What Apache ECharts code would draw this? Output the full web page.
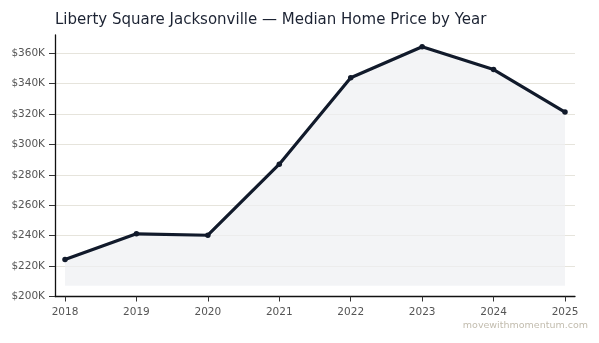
<!DOCTYPE html>
<html>
<head>
<meta charset="utf-8">
<script src="https://cdn.jsdelivr.net/npm/echarts@6/dist/echarts.min.js"></script>
<style>
  html, body { margin: 0; padding: 0; background: #fff; }
  #chart { width: 599px; height: 343px; }
</style>
</head>
<body>
<div id="chart"></div>
<script>
  // data
  const years = [2018, 2019, 2020, 2021, 2022, 2023, 2024, 2025]
  const prices = [224300, 241200, 240300, 287000, 343900, 364300, 349300, 321300]
  const yTicks = [200000, 220000, 240000, 260000, 280000, 300000, 320000, 340000, 360000]
  const fillBase = 207000

  const chart = echarts.init(document.getElementById('chart'))
  chart.setOption({
    animation: false,
    textStyle: { fontFamily: 'DejaVu Sans' },
    title: {
      text: 'Liberty Square Jacksonville — Median Home Price by Year',
      left: 50,
      top: 8,
      textStyle: { fontSize: 15, fontWeight: 'normal', color: '#1c2333', fontFamily: 'DejaVu Sans' }
    },
    grid: { left: 55, right: 24, top: 35, bottom: 46.5, containLabel: false },
    xAxis: {
      type: 'value',
      min: 2017.86,
      max: 2025.14,
      axisLine: { lineStyle: { color: '#111', width: 1.3 } },
      axisTick: { customValues: years, length: 5, lineStyle: { color: '#333' } },
      axisLabel: {
        customValues: years,
        color: '#555',
        fontSize: 10.5,
        margin: 10,
        formatter: v => String(v)
      },
      splitLine: { show: false }
    },
    yAxis: {
      type: 'value',
      min: 200000,
      max: 372000,
      axisLine: { show: true, lineStyle: { color: '#111', width: 1.3 } },
      axisTick: { show: true, customValues: yTicks, length: 6, lineStyle: { color: '#333' } },
      axisLabel: {
        customValues: yTicks,
        color: '#555',
        fontSize: 10.5,
        margin: 10,
        formatter: v => '$' + Math.round(v / 1000) + 'K'
      },
      splitLine: { show: true, lineStyle: { color: '#e6e4dc', width: 1 } }
    },
    series: [{
      type: 'line',
      data: years.map((y, i) => [y, prices[i]]),
      symbol: 'circle',
      symbolSize: 5.5,
      lineStyle: { color: '#111a2b', width: 3.2 },
      itemStyle: { color: '#111a2b' },
      areaStyle: { origin: fillBase, color: '#eef0f2' }
    }],
    graphic: [{
      type: 'text',
      right: 11,
      top: 321,
      style: { text: 'movewithmomentum.com', fill: '#c2bcae', fontSize: 9.5, fontFamily: 'DejaVu Sans' }
    }]
  })
</script>
</body>
</html>
